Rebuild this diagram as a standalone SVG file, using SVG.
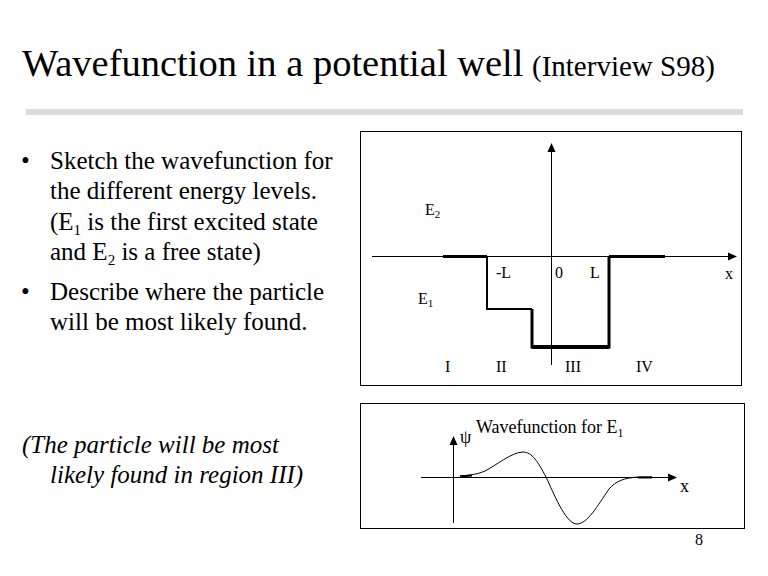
<svg xmlns="http://www.w3.org/2000/svg" width="768" height="576" viewBox="0 0 768 576" font-family="'Liberation Serif', 'Times New Roman', serif">
<defs>
<style>
.title{font-family:'Liberation Serif','Times New Roman',serif;font-size:38.5px}
.sub{font-family:'Liberation Serif','Times New Roman',serif;font-size:29px}
.body{font-family:'Liberation Serif','Times New Roman',serif;font-size:25px}
.ital{font-family:'Liberation Serif','Times New Roman',serif;font-size:25px;font-style:italic}
.lbl{font-family:'Liberation Serif','Times New Roman',serif;font-size:16px}
.lbl2{font-family:'Liberation Serif','Times New Roman',serif;font-size:18px}
.frame{fill:none;stroke:#000;stroke-width:1}
.ax{fill:none;stroke:#000;stroke-width:1}
.thick{fill:none;stroke:#000;stroke-width:3}
.head{fill:#000;stroke:none}
</style>
</defs>
<rect width="768" height="576" fill="#fff"/>

<g id="title">
<text class="title" x="22" y="76">Wavefunction in a potential well</text>
<text class="sub" x="532" y="76">(Interview S98)</text>
<rect x="26" y="109" width="717" height="6" fill="#dcdcdc"/>
</g>

<g id="bullets">
<text class="body" x="21" y="169">•</text>
<text class="body" x="50" y="169">Sketch the wavefunction for</text>
<text class="body" x="50" y="199">the different energy levels.</text>
<text class="body" x="50" y="230">(E<tspan font-size="15" dy="5">1</tspan><tspan dy="-5"> is the first excited state</tspan></text>
<text class="body" x="50" y="260">and E<tspan font-size="15" dy="5">2</tspan><tspan dy="-5"> is a free state)</tspan></text>
<text class="body" x="21" y="300">•</text>
<text class="body" x="50" y="300">Describe where the particle</text>
<text class="body" x="50" y="330">will be most likely found.</text>
</g>

<g id="answer">
<text class="ital" x="22" y="453">(The particle will be most</text>
<text class="ital" x="50" y="483">likely found in region III)</text>
</g>

<g id="well-diagram">
<rect class="frame" x="360.5" y="131.5" width="381" height="254"/>
<g id="well-connectors">
<line class="ax" x1="551.5" y1="365" x2="551.5" y2="150"/>
<polygon class="head" points="551.5,143 547.5,152 555.5,152"/>
<line class="ax" x1="372" y1="256.5" x2="730" y2="256.5"/>
<polygon class="head" points="737,256.5 728,252.5 728,260.5"/>
<line class="thick" x1="443" y1="256.5" x2="487" y2="256.5"/>
<line class="thick" x1="609" y1="256.5" x2="665" y2="256.5"/>
<polyline fill="none" stroke="#000" stroke-width="2" points="487,256 487,309 532,309"/>
<polyline fill="none" stroke="#000" stroke-width="3" points="532,309 532,347 609,347 609,256"/>
<line stroke="#000" stroke-width="4" x1="532" y1="347" x2="609" y2="347"/>
</g>
<text class="lbl" x="425" y="215">E<tspan font-size="11" dy="3">2</tspan></text>
<text class="lbl" x="418" y="304">E<tspan font-size="11" dy="3">1</tspan></text>
<text class="lbl" x="496" y="278">-L</text>
<text class="lbl" x="555" y="278">0</text>
<text class="lbl" x="590" y="278">L</text>
<text class="lbl" x="725" y="279">x</text>
<text class="lbl" x="445" y="372">I</text>
<text class="lbl" x="496" y="372">II</text>
<text class="lbl" x="565" y="372">III</text>
<text class="lbl" x="636" y="372">IV</text>
</g>

<g id="wave-diagram">
<rect class="frame" x="360.5" y="403.5" width="384" height="125"/>
<g id="wave-connectors">
<line class="ax" x1="453.5" y1="523" x2="453.5" y2="443"/>
<polygon class="head" points="453.5,436 449.5,445 457.5,445"/>
<line class="ax" x1="421" y1="477.5" x2="670" y2="477.5"/>
<polygon class="head" points="677,477.5 668,473.5 668,481.5"/>
<path fill="none" stroke="#000" stroke-width="1" d="M460,476 C472,475 478,474 485,471 C495,466 512,452 523,452 C532,452 538,462 546,477 C554,494 565,522 576,524 C587,525 598,505 609,489 C616,481 624,478 638,477 L652,477"/>
<line stroke="#000" stroke-width="2" x1="460" y1="476.5" x2="472" y2="475.5"/>
<line stroke="#000" stroke-width="2" x1="638" y1="477.5" x2="652" y2="477.5"/>
</g>
<text class="lbl2" x="460" y="443">ψ</text>
<text class="lbl2" x="476" y="433">Wavefunction for E<tspan font-size="12" dy="4">1</tspan></text>
<text class="lbl2" x="680" y="492">x</text>
</g>

<text class="lbl" x="695" y="545" font-size="12">8</text>
</svg>
